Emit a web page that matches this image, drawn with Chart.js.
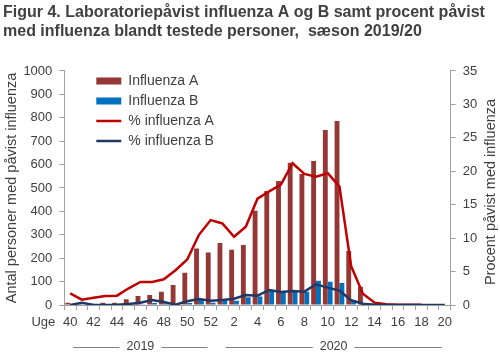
<!DOCTYPE html>
<html lang="da">
<head>
<meta charset="UTF-8">
<title>Figur 4 - influenza 2019/20</title>
<script src="https://cdn.jsdelivr.net/npm/chart.js"></script>
<style>
    body { margin: 0; background: #fff; }
</style>
</head>
<body>
<canvas id="fluChart" width="500" height="358"></canvas>
<script>
    // uger i sæsonen 2019/20
    const weeks = ['40','41','42','43','44','45','46','47','48','49','50','51','52',
                   '1','2','3','4','5','6','7','8','9','10','11','12','13','14','15','16','17','18','19','20'];

    // antal laboratoriepåviste
    const influenzaA = [10, 3, 5, 10, 10, 25, 38, 43, 57, 85, 138, 241, 224,
                        265, 236, 256, 403, 487, 530, 608, 560, 615, 748, 786, 231, 78, 5, 1, 0, 0, 0, 0, 0];
    const influenzaB = [0, 0, 0, 0, 0, 2, 3, 9, 7, 2, 9, 22, 10,
                        20, 18, 33, 36, 61, 57, 57, 57, 104, 99, 94, 21, 6, 1, 0, 0, 0, 0, 0, 0];

    // procent positive
    const pctA = [1.75, 0.8, 1.1, 1.35, 1.4, 2.5, 3.45, 3.45, 3.85, 5.2, 6.8, 10.5, 12.7,
                  12.2, 10.2, 11.7, 15.9, 17.0, 18.0, 21.2, 19.6, 19.2, 19.7, 17.7, 5.8, 1.7, 0.35, 0.1, 0.05, 0.05, 0.05, null, null];
    const pctB = [0, 0.35, 0, 0, 0.05, 0.15, 0.35, 0.75, 0.45, 0.05, 0.55, 0.9, 0.65,
                  0.75, 0.95, 1.5, 1.4, 2.25, 1.95, 2.1, 2.0, 3.1, 2.6, 2.15, 0.7, 0.2, 0.05, 0, 0, 0, 0, 0, 0];

    const years = ['2019', '2020'];
    const yearSpans = [[0, 12], [13, 32]];

    const textColor = '#404040';
    const axisColor = '#a0a0a0';
    const fontFamily = "'Liberation Sans', Arial, sans-serif";

    Chart.defaults.font.family = fontFamily;
    Chart.defaults.color = textColor;

    // legenden ligger inde i plotområdet, oppe til venstre
    const legendSpot = {
        id: 'legendSpot',
        afterLayout(chart) {
            const lg = chart.legend;
            lg.left = chart.chartArea.left + 26;
            lg.top = chart.chartArea.top - 3;
            lg.bottom = chart.chartArea.bottom;
        }
    };

    // "Uge", årstal under aksen og højre aksetitel
    const extras = {
        id: 'extras',
        afterDraw(chart) {
            const ctx = chart.ctx;
            const x = chart.scales.x;
            const area = chart.chartArea;
            ctx.save();
            ctx.fillStyle = textColor;
            ctx.textBaseline = 'middle';

            ctx.font = '13px ' + fontFamily;
            ctx.textAlign = 'right';
            ctx.fillText('Uge', x.left - 9, x.top + 17);

            const half = (x.getPixelForValue(1) - x.getPixelForValue(0)) / 2;
            const yy = x.bottom - 11;
            ctx.font = '12.5px ' + fontFamily;
            ctx.textAlign = 'center';
            ctx.strokeStyle = '#7f7f7f';
            ctx.lineWidth = 1;
            years.forEach((yr, i) => {
                const left = x.getPixelForValue(yearSpans[i][0]) - half;
                const right = x.getPixelForValue(yearSpans[i][1]) + half;
                const mid = (left + right) / 2;
                const w = ctx.measureText(yr).width;
                ctx.fillText(yr, mid, yy);
                ctx.beginPath();
                ctx.moveTo(left + 9, Math.round(yy) + 0.5);
                ctx.lineTo(mid - w / 2 - 7, Math.round(yy) + 0.5);
                ctx.moveTo(mid + w / 2 + 7, Math.round(yy) + 0.5);
                ctx.lineTo(right - 9, Math.round(yy) + 0.5);
                ctx.stroke();
            });

            ctx.font = '14.5px ' + fontFamily;
            ctx.translate(490.5, (area.top + area.bottom) / 2 + 4);
            ctx.rotate(-Math.PI / 2);
            ctx.fillText('Procent påvist med influenza', 0, 0);
            ctx.restore();
        }
    };

    const ctx = document.getElementById('fluChart').getContext('2d');
    new Chart(ctx, {
        type: 'bar',
        data: {
            labels: weeks,
            datasets: [
                { label: 'Influenza A', data: influenzaA, backgroundColor: '#953735', order: 2, yAxisID: 'y' },
                { label: 'Influenza B', data: influenzaB, backgroundColor: '#0070c0', order: 2, yAxisID: 'y' },
                { type: 'line', label: '% influenza A', data: pctA, borderColor: '#c00000', backgroundColor: '#c00000',
                  borderWidth: 2.5, pointRadius: 0, tension: 0, order: 1, yAxisID: 'y1' },
                { type: 'line', label: '% influenza B', data: pctB, borderColor: '#1f3864', backgroundColor: '#1f3864',
                  borderWidth: 2.5, pointRadius: 0, tension: 0, order: 0, yAxisID: 'y1' }
            ]
        },
        options: {
            responsive: false,
            animation: false,
            layout: { padding: { left: 3, right: 0, top: 0, bottom: 0 } },
            datasets: {
                bar: { categoryPercentage: 0.83, barPercentage: 1, borderWidth: 0 }
            },
            plugins: {
                title: {
                    display: true,
                    align: 'start',
                    text: ['Figur 4. Laboratoriepåvist influenza A og B samt procent påvist',
                           'med influenza blandt testede personer,  sæson 2019/20'],
                    color: textColor,
                    font: { size: 16, weight: 'bold', lineHeight: 1.24 },
                    padding: { top: 2.3, bottom: 29 }
                },
                legend: {
                    position: 'chartArea',
                    align: 'start',
                    labels: {
                        usePointStyle: true,
                        pointStyleWidth: 25,
                        boxHeight: 7,
                        padding: 6,
                        color: textColor,
                        font: { size: 14 },
                        generateLabels(chart) {
                            return chart.data.datasets.map((ds, i) => ({
                                text: ds.label,
                                fillStyle: ds.backgroundColor,
                                strokeStyle: ds.type === 'line' ? ds.borderColor : 'transparent',
                                lineWidth: ds.type === 'line' ? 2.5 : 0,
                                pointStyle: ds.type === 'line' ? 'line' : 'rect',
                                fontColor: textColor,
                                datasetIndex: i,
                                hidden: false
                            }));
                        }
                    }
                },
                tooltip: { enabled: false }
            },
            scales: {
                x: {
                    grid: { drawOnChartArea: false, drawTicks: true, tickLength: 5, color: axisColor, offset: true },
                    border: { color: axisColor },
                    ticks: {
                        autoSkip: false,
                        maxRotation: 0,
                        padding: 5,
                        font: { size: 13 },
                        callback: function (val, i) { return i % 2 === 0 ? this.getLabelForValue(val) : ''; }
                    },
                    afterFit(scale) { scale.height = 53; }
                },
                y: {
                    position: 'left',
                    min: 0,
                    max: 1000,
                    ticks: { stepSize: 100, padding: 7, font: { size: 13 }, callback: (v) => String(v) },
                    grid: { drawOnChartArea: false, tickLength: 5, color: axisColor },
                    border: { color: axisColor },
                    title: {
                        display: true,
                        text: 'Antal personer med påvist influenza',
                        font: { size: 14.5 },
                        padding: 0
                    },
                    afterFit(scale) { scale.width = 61.3; }
                },
                y1: {
                    position: 'right',
                    min: 0,
                    max: 35,
                    ticks: { stepSize: 5, padding: 7, font: { size: 13 }, callback: (v) => String(v) },
                    grid: { drawOnChartArea: false, tickLength: 5, color: axisColor },
                    border: { color: axisColor },
                    afterFit(scale) { scale.width = 49.3; }
                }
            }
        },
        plugins: [legendSpot, extras]
    });
</script>
</body>
</html>
